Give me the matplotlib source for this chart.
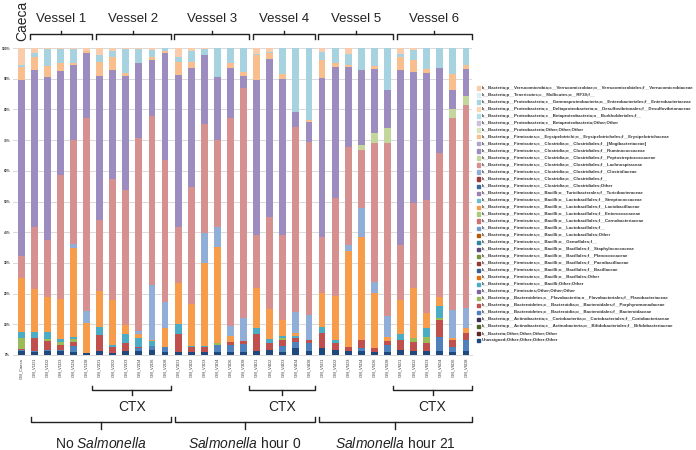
import matplotlib.pyplot as plt
import matplotlib.transforms as mtransforms
from matplotlib.patches import Rectangle

plt.rcParams['font.family'] = ['Liberation Sans', 'DejaVu Sans']
plt.rcParams['mathtext.fontset'] = 'custom'
plt.rcParams['mathtext.it'] = 'Liberation Sans:italic'
plt.rcParams['mathtext.rm'] = 'Liberation Sans'

samples = ['GM_Caeca',
           'GM_V1D1', 'GM_V1D2', 'GM_V1D3', 'GM_V1D4', 'GM_V1D8',
           'GM_V2D1', 'GM_V2D2', 'GM_V2D3', 'GM_V2D4', 'GM_V2D6', 'GM_V2D8',
           'GM_V3D1', 'GM_V3D2', 'GM_V3D3', 'GM_V3D4', 'GM_V3D6', 'GM_V3D8',
           'GM_V4D1', 'GM_V4D2', 'GM_V4D3', 'GM_V4D4', 'GM_V4D8',
           'GM_V5D1', 'GM_V5D2', 'GM_V5D3', 'GM_V5D4', 'GM_V5D6', 'GM_V5D8',
           'GM_V6D1', 'GM_V6D2', 'GM_V6D3', 'GM_V6D4', 'GM_V6D6', 'GM_V6D8']

# relative abundance (%) of the taxa that show up, bottom to top
unassigned = [1.2, 1.0, 1.4, 1.3, 1.0, 0.5, 1.4, 0.8, 1.4, 1.2, 1.5, 1.0, 1.1, 1.1, 1.1, 1.1, 1.1, 1.1,
              1.4, 1.5, 1.1, 2.2, 1.4, 2.2, 1.6, 1.2, 1.2, 1.0, 1.1, 1.6, 1.4, 1.4, 1.4, 1.1, 1.4]
bacteroidaceae = [0.4, 0.3, 0.3, 0.4, 1.8, 0, 0, 0, 0, 1.0, 1.5, 1.5, 0, 0, 0, 2.2, 2.2, 2.5,
                  0, 0, 1.8, 2.1, 2.6, 0, 0, 0, 1.0, 0, 2.2, 0, 0, 0, 4.6, 1.6, 3.5]
porphyromonadaceae = [0.3, 4.1, 3.0, 1.6, 1.5, 0, 5.1, 1.7, 2.4, 0.4, 0, 0, 5.9, 1.4, 1.4, 0, 1.0, 1.1,
                      5.6, 2.3, 2.0, 1.1, 0.9, 5.1, 2.4, 1.5, 2.7, 1.2, 1.4, 3.3, 2.9, 2.6, 5.4, 2.2, 2.4]
flavobacteriaceae = [3.8, 0, 0.6, 0.8, 0.8, 0, 0, 0, 0, 0, 0, 0, 0, 0, 0, 0.5, 0, 0,
                     0, 0, 0.5, 0, 0, 0, 0, 0, 0, 0, 0, 0, 1.1, 1.8, 0.5, 0, 0]
bacilli_other = [1.9, 2.2, 2.3, 1.0, 0.9, 0, 2.5, 0.7, 3.2, 2.9, 1.5, 0, 3.1, 0.4, 0.4, 0, 0, 0,
                 1.7, 1.3, 0.8, 0.7, 0, 1.9, 0.9, 0, 0, 0, 0, 2.1, 0, 2.9, 4.1, 0, 0]
lactobacillaceae = [17.4, 13.8, 11.4, 13.3, 28.7, 10.0, 12.0, 14.7, 2.7, 1.5, 0.5, 6.3,
                    13.2, 13.7, 27.0, 31.5, 1.9, 0, 13.0, 9.8, 5.2, 1.0, 0,
                    10.9, 14.3, 31.3, 33.4, 17.9, 1.3, 10.9, 16.3, 4.9, 3.0, 0.5, 1.4]
clostridiaceae = [0, 0, 0, 0, 1.3, 3.9, 0, 0, 0, 0.8, 17.8, 8.5, 0, 0, 9.9, 6.5, 3.2, 7.2,
                  0, 0, 0, 7.0, 8.1, 0, 0, 1.8, 9.5, 3.8, 6.7, 0, 0, 0, 0, 9.3, 6.5]
lachnospiraceae = [7.3, 20.3, 18.6, 40.1, 34.0, 62.8, 23.0, 39.3, 43.9, 62.9, 55.2, 46.1,
                   18.3, 38.0, 35.4, 28.2, 67.7, 75.0, 17.3, 30.1, 27.6, 60.3, 56.5,
                   18.4, 31.8, 32.1, 19.0, 45.0, 56.5, 17.9, 27.7, 36.9, 46.7, 62.4, 66.3]
peptostreptococcaceae = [0, 0, 0, 0, 0, 0, 0, 0, 0, 0, 0, 0, 0, 0, 0, 0, 0, 0,
                         0, 0, 0, 0, 0, 0, 0, 0, 1.6, 3.5, 4.6, 0, 0, 0, 0, 2.9, 3.0]
ruminococcaceae = [57.3, 51.1, 52.8, 34.0, 24.5, 21.3, 46.9, 35.6, 37.4, 24.3, 18.0, 35.1,
                   49.6, 38.8, 22.4, 20.5, 16.5, 3.9, 50.6, 51.5, 50.9, 4.9, 6.5,
                   51.6, 42.8, 25.9, 24.4, 20.9, 12.5, 57.1, 42.8, 41.3, 27.9, 6.3, 8.5]
erysipelotrichaceae = [4.3, 4.4, 3.7, 2.5, 0.5, 0.5, 4.6, 4.4, 0.9, 0, 1.0, 0.5, 4.3, 2.2, 0, 0, 1.4, 1.4,
                       8.1, 1.8, 1.6, 0, 0.5, 5.9, 1.2, 0.5, 0, 0.8, 0, 4.2, 3.8, 1.5, 0, 5.2, 1.5]
enterobacteriaceae = [0.6, 1.1, 5.5, 4.7, 4.6, 0, 2.2, 1.7, 7.8, 4.7, 2.5, 1.0, 1.7, 3.3, 2.1, 9.5, 5.0, 7.8,
                      0.5, 0.5, 8.5, 20.7, 23.5, 2.7, 5.0, 3.8, 7.2, 5.9, 13.7, 1.0, 3.2, 6.7, 6.4, 8.5, 5.5]
verrucomicrobiaceae = [5.5, 1.7, 0.4, 0.3, 0.4, 1.0, 2.3, 1.1, 0.3, 0.3, 0.5, 0, 2.8, 1.1, 0.3, 0, 0, 0,
                       1.8, 1.2, 0, 0, 0, 1.3, 0, 1.9, 0, 0, 0, 1.9, 0.8, 0, 0, 0, 0]

# legend entries, top to bottom as printed
legend_labels = [
    'k__Bacteria;p__Verrucomicrobia;c__Verrucomicrobiae;o__Verrucomicrobiales;f__Verrucomicrobiaceae',
    'k__Bacteria;p__Tenericutes;c__Mollicutes;o__RF39;f__',
    'k__Bacteria;p__Proteobacteria;c__Gammaproteobacteria;o__Enterobacteriales;f__Enterobacteriaceae',
    'k__Bacteria;p__Proteobacteria;c__Deltaproteobacteria;o__Desulfovibrionales;f__Desulfovibrionaceae',
    'k__Bacteria;p__Proteobacteria;c__Betaproteobacteria;o__Burkholderiales;f__',
    'k__Bacteria;p__Proteobacteria;c__Betaproteobacteria;Other;Other',
    'k__Bacteria;p__Proteobacteria;Other;Other;Other',
    'k__Bacteria;p__Firmicutes;c__Erysipelotrichi;o__Erysipelotrichales;f__Erysipelotrichaceae',
    'k__Bacteria;p__Firmicutes;c__Clostridia;o__Clostridiales;f__[Mogibacteriaceae]',
    'k__Bacteria;p__Firmicutes;c__Clostridia;o__Clostridiales;f__Ruminococcaceae',
    'k__Bacteria;p__Firmicutes;c__Clostridia;o__Clostridiales;f__Peptostreptococcaceae',
    'k__Bacteria;p__Firmicutes;c__Clostridia;o__Clostridiales;f__Lachnospiraceae',
    'k__Bacteria;p__Firmicutes;c__Clostridia;o__Clostridiales;f__Clostridiaceae',
    'k__Bacteria;p__Firmicutes;c__Clostridia;o__Clostridiales;f__',
    'k__Bacteria;p__Firmicutes;c__Clostridia;o__Clostridiales;Other',
    'k__Bacteria;p__Firmicutes;c__Bacilli;o__Turicibacterales;f__Turicibacteraceae',
    'k__Bacteria;p__Firmicutes;c__Bacilli;o__Lactobacillales;f__Streptococcaceae',
    'k__Bacteria;p__Firmicutes;c__Bacilli;o__Lactobacillales;f__Lactobacillaceae',
    'k__Bacteria;p__Firmicutes;c__Bacilli;o__Lactobacillales;f__Enterococcaceae',
    'k__Bacteria;p__Firmicutes;c__Bacilli;o__Lactobacillales;f__Carnobacteriaceae',
    'k__Bacteria;p__Firmicutes;c__Bacilli;o__Lactobacillales;f__',
    'k__Bacteria;p__Firmicutes;c__Bacilli;o__Lactobacillales;Other',
    'k__Bacteria;p__Firmicutes;c__Bacilli;o__Gemellales;f__',
    'k__Bacteria;p__Firmicutes;c__Bacilli;o__Bacillales;f__Staphylococcaceae',
    'k__Bacteria;p__Firmicutes;c__Bacilli;o__Bacillales;f__Planococcaceae',
    'k__Bacteria;p__Firmicutes;c__Bacilli;o__Bacillales;f__Paenibacillaceae',
    'k__Bacteria;p__Firmicutes;c__Bacilli;o__Bacillales;f__Bacillaceae',
    'k__Bacteria;p__Firmicutes;c__Bacilli;o__Bacillales;Other',
    'k__Bacteria;p__Firmicutes;c__Bacilli;Other;Other',
    'k__Bacteria;p__Firmicutes;Other;Other;Other',
    'k__Bacteria;p__Bacteroidetes;c__Flavobacteriia;o__Flavobacteriales;f__Flavobacteriaceae',
    'k__Bacteria;p__Bacteroidetes;c__Bacteroidia;o__Bacteroidales;f__Porphyromonadaceae',
    'k__Bacteria;p__Bacteroidetes;c__Bacteroidia;o__Bacteroidales;f__Bacteroidaceae',
    'k__Bacteria;p__Actinobacteria;c__Coriobacteriia;o__Coriobacteriales;f__Coriobacteriaceae',
    'k__Bacteria;p__Actinobacteria;c__Actinobacteria;o__Bifidobacteriales;f__Bifidobacteriaceae',
    'k__Bacteria;Other;Other;Other;Other',
    'Unassigned;Other;Other;Other;Other',
]
legend_colors = ['#F9CDAC', '#DBEEF4', '#A7D3E0', '#FCD5B5', '#B7DEE8', '#CCC1DA', '#D7E4BD',
                 '#F9BE8E', '#B3A2C7', '#9D8CBF', '#C3D69B', '#D6908F', '#90AED8', '#9E3B38',
                 '#3A679C', '#9983B5', '#6FBDD1', '#F79C4A', '#AFC97A', '#CD7371', '#729ACA',
                 '#B65708', '#31859C', '#5F497A', '#76923C', '#953735', '#365F92', '#E46C0A',
                 '#4BACC6', '#8064A2', '#9BBB59', '#C0504D', '#4F81BD', '#3F3151', '#4F6228',
                 '#632523', '#1F497D']

stack = [(unassigned, 36), (bacteroidaceae, 32), (porphyromonadaceae, 31),
         (flavobacteriaceae, 30), (bacilli_other, 28), (lactobacillaceae, 17),
         (clostridiaceae, 12), (lachnospiraceae, 11), (peptostreptococcaceae, 10),
         (ruminococcaceae, 9), (erysipelotrichaceae, 7), (enterobacteriaceae, 2),
         (verrucomicrobiaceae, 0)]

W, H = 696, 450
fig = plt.figure(figsize=(W / 100, H / 100), dpi=100)
ax = fig.add_axes([13 / W, 1 - 355 / H, (472 - 13) / W, (355 - 48) / H])

x = list(range(len(samples)))
bottom = [0.0] * len(samples)
for vals, li in stack:
    ax.bar(x, vals, bottom=bottom, width=0.52, color=legend_colors[li], linewidth=0, zorder=2)
    bottom = [b + v for b, v in zip(bottom, vals)]

ax.set_xlim(-0.62, len(samples) - 0.54)
ax.set_ylim(0, 100)
ax.set_yticks(range(0, 101, 10))
ax.set_yticklabels([f'{v}%' for v in range(0, 101, 10)], fontsize=2.3, fontweight='bold', color='#333333')
ax.set_xticks(x)
ax.set_xticklabels(samples, rotation=90, fontsize=3, color='#333333')
ax.tick_params(length=0, pad=2)
ax.grid(axis='y', color='#d9d9d9', linewidth=0.7, zorder=0)
for s in ['top', 'right', 'left']:
    ax.spines[s].set_visible(False)
ax.spines['bottom'].set_color('#d9d9d9')
ax.spines['bottom'].set_linewidth(0.7)

# legend, drawn row by row
for i, (lab, col) in enumerate(zip(legend_labels, legend_colors)):
    yc = 88 + i * 7.0
    fig.patches.append(Rectangle((477 / W, 1 - (yc + 1.5) / H), 3 / W, 3 / H,
                                 transform=fig.transFigure, color=col))
    fig.text(482 / W, 1 - yc / H, lab, fontsize=3.15, fontweight='bold', color='#333333',
             va='center', ha='left')

trans = mtransforms.blended_transform_factory(ax.transData, fig.transFigure)


def bracket(x0, x1, y, end_dy, mid_dy):
    xm = (x0 + x1) / 2
    fy = lambda p: 1 - p / H
    ax.plot([x0, x0, x1, x1], [fy(y + end_dy), fy(y), fy(y), fy(y + end_dy)],
            color='#222222', lw=1, transform=trans, clip_on=False)
    ax.plot([xm, xm], [fy(y), fy(y + mid_dy)], color='#222222', lw=1,
            transform=trans, clip_on=False)


vessels = [(1, 5, 'Vessel 1'), (6, 11, 'Vessel 2'), (12, 17, 'Vessel 3'),
           (18, 22, 'Vessel 4'), (23, 28, 'Vessel 5'), (29, 34, 'Vessel 6')]
for a, b, lab in vessels:
    bracket(a - 0.3, b + 0.45, 34, 4.5, -3.5)
    ax.text((a + b) / 2 + 0.07, 1 - 19 / H, lab, transform=trans, fontsize=9.5,
            ha='center', va='center', color='#222222')

ctx_groups = [(6, 11), (18, 22), (29, 34)]
for a, b in ctx_groups:
    bracket(a - 0.55, b + 0.45, 390, -4.5, 4.5)
    ax.text((a + b) / 2 - 0.05, 1 - 407 / H, 'CTX', transform=trans, fontsize=10,
            ha='center', va='center', color='#222222')

treatments = [(1, 11, r'No $\it{Salmonella}$'), (12, 22, r'$\it{Salmonella}$ hour 0'),
              (23, 34, r'$\it{Salmonella}$ hour 21')]
for a, b, lab in treatments:
    bracket(a - 0.25, b + 0.45, 422, -5, 7)
    ax.text((a + b) / 2 + 0.1, 1 - 443 / H, lab, transform=trans, fontsize=10,
            ha='center', va='center', color='#222222')

ax.text(22 / W, 1 - 41 / H, 'Caeca', transform=fig.transFigure, rotation=90,
        fontsize=10, ha='center', va='bottom', color='#222222')

fig.savefig('out.png', dpi=100)
